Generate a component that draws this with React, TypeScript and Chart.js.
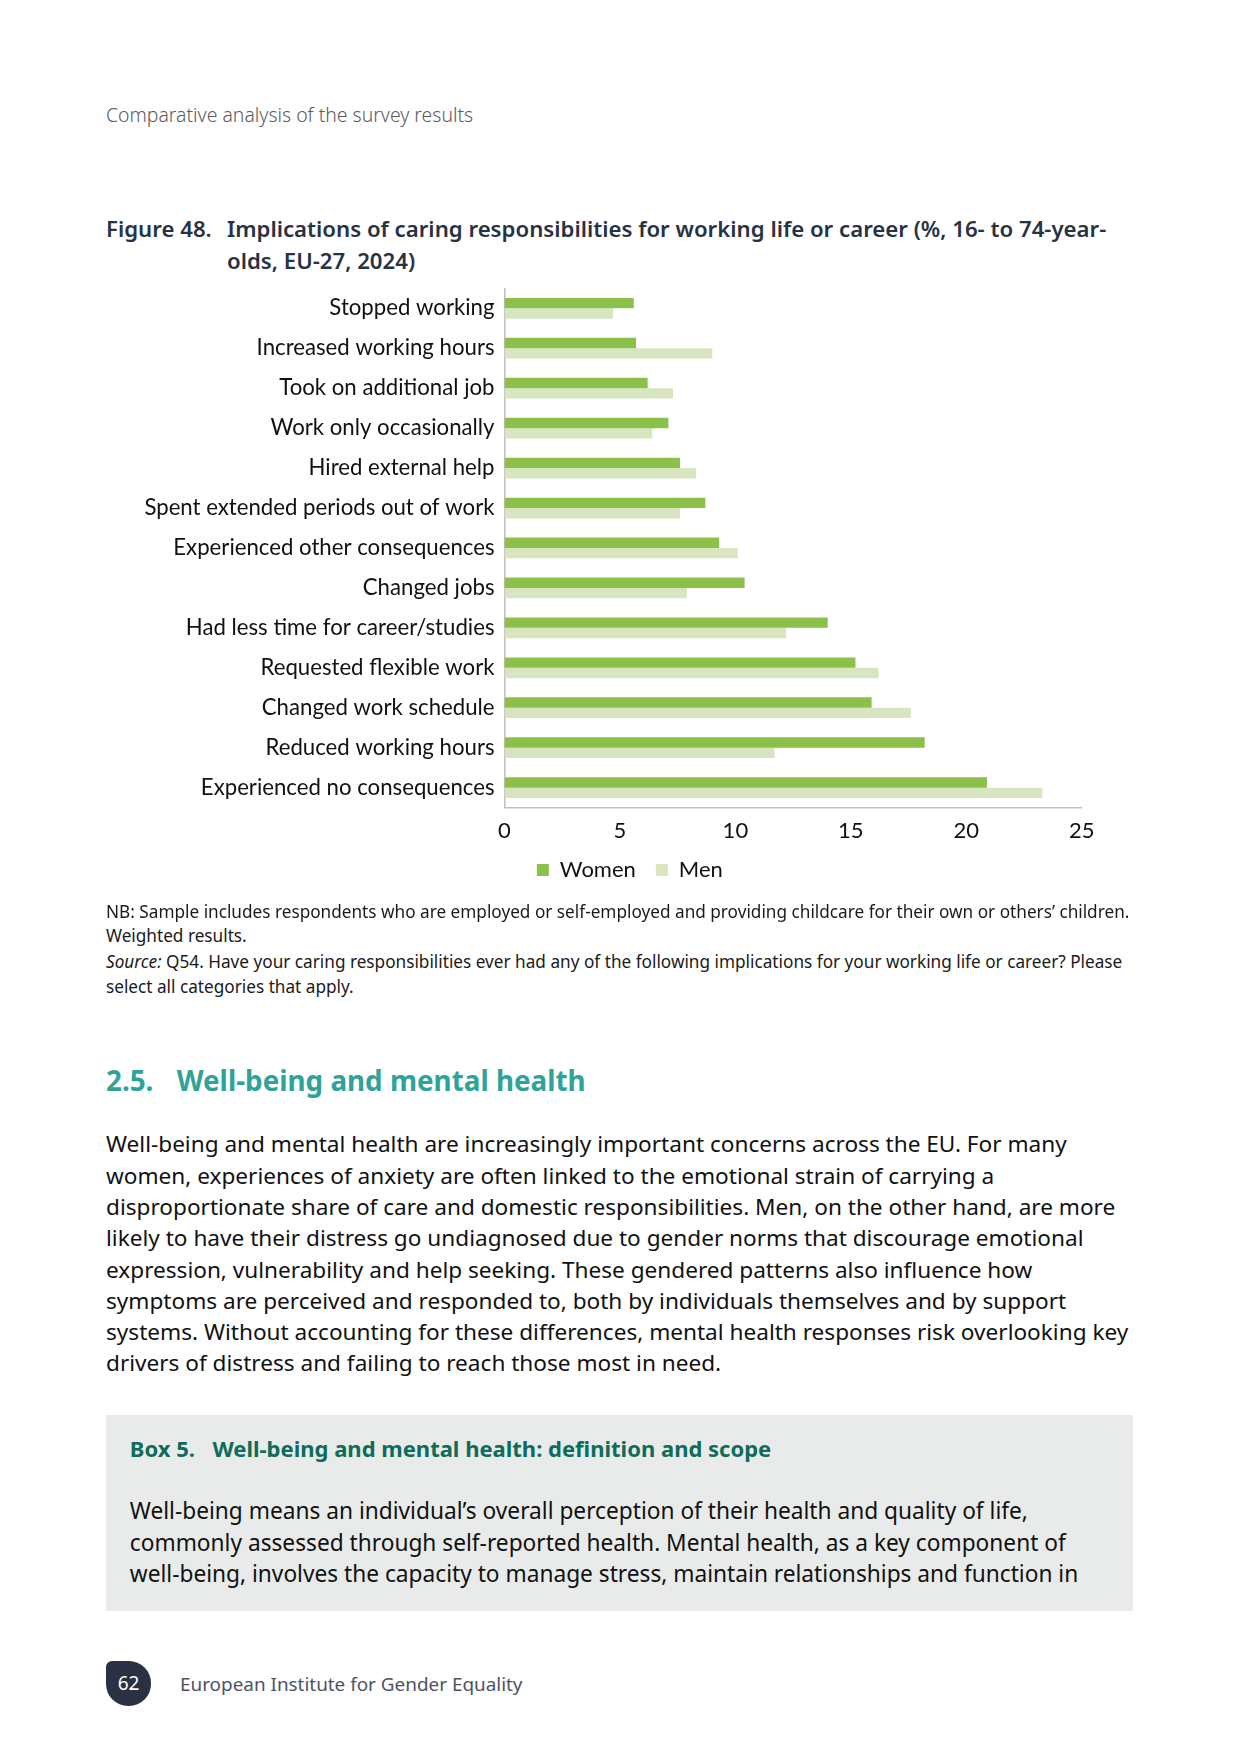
import React, { useEffect, useRef } from "react";
import { Chart, registerables } from "chart.js";

Chart.register(...registerables);

const categories = [
  "Stopped working",
  "Increased working hours",
  "Took on additional job",
  "Work only occasionally",
  "Hired external help",
  "Spent extended periods out of work",
  "Experienced other consequences",
  "Changed jobs",
  "Had less time for career/studies",
  "Requested flexible work",
  "Changed work schedule",
  "Reduced working hours",
  "Experienced no consequences",
];
const women = [5.6, 5.7, 6.2, 7.1, 7.6, 8.7, 9.3, 10.4, 14.0, 15.2, 15.9, 18.2, 20.9];
const men = [4.7, 9.0, 7.3, 6.4, 8.3, 7.6, 10.1, 7.9, 12.2, 16.2, 17.6, 11.7, 23.3];
const seriesNames = ["Women", "Men"];
const xMin = 0;
const xMax = 25;
const xStep = 5;

const bodyLines = [
  "Well-being and mental health are increasingly important concerns across the EU. For many",
  "women, experiences of anxiety are often linked to the emotional strain of carrying a",
  "disproportionate share of care and domestic responsibilities. Men, on the other hand, are more",
  "likely to have their distress go undiagnosed due to gender norms that discourage emotional",
  "expression, vulnerability and help seeking. These gendered patterns also influence how",
  "symptoms are perceived and responded to, both by individuals themselves and by support",
  "systems. Without accounting for these differences, mental health responses risk overlooking key",
  "drivers of distress and failing to reach those most in need.",
];
const boxLines = [
  "Well-being means an individual\u2019s overall perception of their health and quality of life,",
  "commonly assessed through self-reported health. Mental health, as a key component of",
  "well-being, involves the capacity to manage stress, maintain relationships and function in",
];

const PAGE_FONT = "'Noto Sans', 'Open Sans', sans-serif";
const CHART_FONT = "Lato";

function T(props: {
  x: number;
  y: number;
  size: number;
  children: React.ReactNode;
  color?: string;
  weight?: number;
  style?: React.CSSProperties;
}) {
  const lh = Math.round(props.size * 1.4);
  return (
    <div
      style={{
        position: "absolute",
        left: props.x,
        top: props.y - lh / 2,
        fontSize: props.size,
        lineHeight: `${lh}px`,
        color: props.color || "#1a1a1a",
        fontWeight: props.weight || 400,
        whiteSpace: "nowrap",
        fontFamily: PAGE_FONT,
        ...props.style,
      }}
    >
      {props.children}
    </div>
  );
}

// nudges the bottom legend so it sits where the original one does
const legendShift = {
  id: "legendShift",
  afterLayout(chart: any) {
    const lg = chart.legend;
    if (lg) {
      lg.left += 26.5;
      lg.right += 26.5;
      lg.top -= 6;
      lg.bottom -= 6;
    }
  },
};

function BarChart() {
  const ref = useRef<HTMLCanvasElement | null>(null);
  useEffect(() => {
    if (!ref.current) return;
    const chart = new Chart(ref.current, {
      type: "bar",
      data: {
        labels: categories,
        datasets: [
          {
            label: seriesNames[0],
            data: women,
            backgroundColor: "#8bc14b",
            barPercentage: 1,
            categoryPercentage: 0.52,
          },
          {
            label: seriesNames[1],
            data: men,
            backgroundColor: "#d7e6c0",
            barPercentage: 1,
            categoryPercentage: 0.52,
          },
        ],
      },
      options: {
        indexAxis: "y",
        animation: false,
        responsive: false,
        devicePixelRatio: 1,
        layout: { padding: { top: 0, right: 88.3, bottom: 5, left: 0 } },
        scales: {
          x: {
            min: xMin,
            max: xMax,
            ticks: {
              stepSize: xStep,
              color: "#111",
              font: { family: CHART_FONT, size: 22 },
              padding: 10.5,
            },
            grid: { display: false, drawTicks: false },
            border: { display: true, color: "#bfbfbf", width: 1.5 },
            afterFit: (s: any) => {
              s.height = 37.4;
            },
          },
          y: {
            ticks: {
              color: "#111",
              font: { family: CHART_FONT, size: 22.2 },
              padding: 10,
              autoSkip: false,
            },
            grid: { display: false, drawTicks: false },
            border: { display: true, color: "#bfbfbf", width: 1.5 },
            afterFit: (s: any) => {
              s.width = 379.5;
            },
          },
        },
        plugins: {
          legend: {
            position: "bottom",
            labels: {
              boxWidth: 12,
              boxHeight: 12,
              padding: 20,
              color: "#111",
              font: { family: CHART_FONT, size: 22 },
            },
          },
          tooltip: { enabled: false },
        },
      },
      plugins: [legendShift],
    });
    return () => chart.destroy();
  }, []);
  return (
    <div style={{ position: "absolute", left: 125, top: 265, width: 1045, height: 637 }}>
      <canvas ref={ref} width={1045} height={637} style={{ width: 1045, height: 637 }} />
    </div>
  );
}

export default function App() {
  return (
    <div
      style={{
        position: "absolute",
        left: 0,
        top: 0,
        width: 1241,
        height: 1754,
        background: "#fff",
        overflow: "hidden",
        fontFamily: PAGE_FONT,
      }}
    >
      <T x={106} y={114} size={19.4} color="#5b5b5b" weight={300}>
        Comparative analysis of the survey results
      </T>

      <T x={106} y={228} size={22.2} color="#273244" weight={600}>
        Figure 48.
      </T>
      <T x={227} y={228} size={22.2} color="#273244" weight={600}>
        Implications of caring responsibilities for working life or career (%, 16- to 74-year-
      </T>
      <T x={227} y={260.6} size={22.2} color="#273244" weight={600}>
        olds, EU-27, 2024)
      </T>

      <BarChart />

      <T x={106} y={911.7} size={17.2} color="#1a1a1a">
        NB: Sample includes respondents who are employed or self-employed and providing childcare for their own or others’ children.
      </T>
      <T x={106} y={936.2} size={17.2} color="#1a1a1a">
        Weighted results.
      </T>
      <T x={106} y={962} size={17.2} color="#1a1a1a">
        <i>Source:</i> Q54. Have your caring responsibilities ever had any of the following implications for your working life or career? Please
      </T>
      <T x={106} y={986.6} size={17.2} color="#1a1a1a">
        select all categories that apply.
      </T>

      <T x={106} y={1080.5} size={27.8} color="#2fa39a" weight={700}>
        2.5.
      </T>
      <T x={176.7} y={1080.5} size={27.8} color="#2fa39a" weight={700}>
        Well-being and mental health
      </T>

      {bodyLines.map((l, i) => (
        <T key={i} x={106} y={1144.3 + i * 31.3} size={22.6} color="#111">
          {l}
        </T>
      ))}

      <div
        style={{
          position: "absolute",
          left: 106,
          top: 1415,
          width: 1027,
          height: 196,
          background: "#e9ebea",
        }}
      />
      <T x={129.8} y={1448.5} size={22} color="#0f6b5b" weight={700}>
        Box 5.
      </T>
      <T x={212.5} y={1448.5} size={22} color="#0f6b5b" weight={700}>
        Well-being and mental health: definition and scope
      </T>
      {boxLines.map((l, i) => (
        <T key={i} x={129.8} y={1511 + i * 31.5} size={22.7} color="#111">
          {l}
        </T>
      ))}

      <div
        style={{
          position: "absolute",
          left: 106,
          top: 1661,
          width: 45,
          height: 45,
          background: "#2a3142",
          borderRadius: "6px 22px 22px 22px",
          color: "#fff",
          fontSize: 19,
          lineHeight: "45px",
          textAlign: "center",
          fontFamily: PAGE_FONT,
        }}
      >
        62
      </div>
      <T x={180} y={1683.5} size={18.9} color="#4b5368">
        European Institute for Gender Equality
      </T>
    </div>
  );
}
